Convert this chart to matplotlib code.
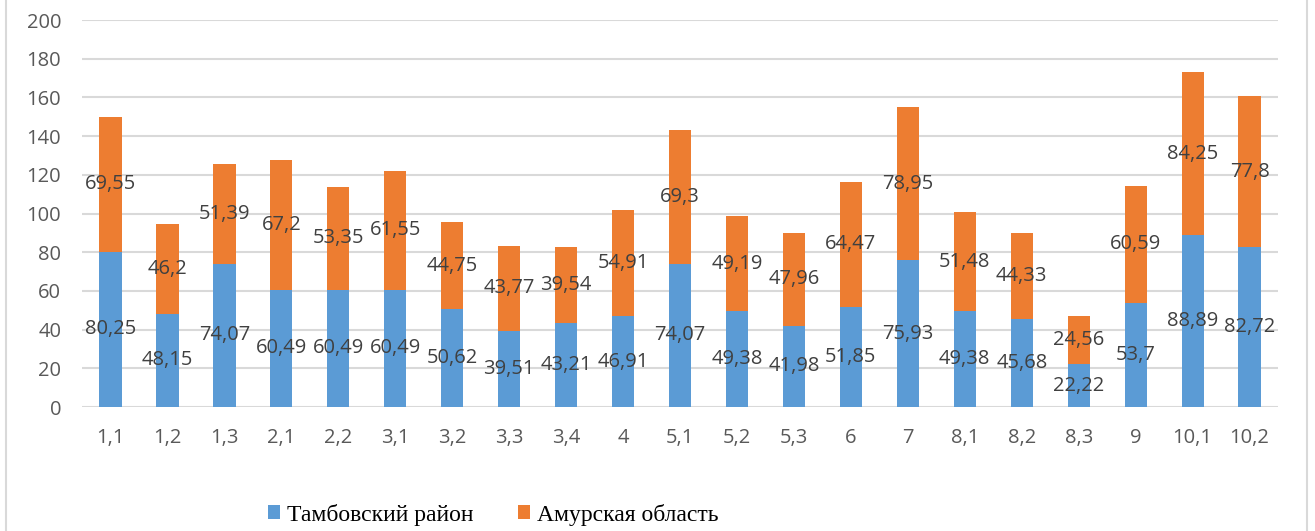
import numpy as np
import matplotlib
matplotlib.use("Agg")
import matplotlib.pyplot as plt
from matplotlib.lines import Line2D

categories = ["1,1", "1,2", "1,3", "2,1", "2,2", "3,1", "3,2", "3,3", "3,4", "4",
              "5,1", "5,2", "5,3", "6", "7", "8,1", "8,2", "8,3", "9", "10,1", "10,2"]
tambov = [80.25, 48.15, 74.07, 60.49, 60.49, 60.49, 50.62, 39.51, 43.21, 46.91,
          74.07, 49.38, 41.98, 51.85, 75.93, 49.38, 45.68, 22.22, 53.7, 88.89, 82.72]
amur = [69.55, 46.2, 51.39, 67.2, 53.35, 61.55, 44.75, 43.77, 39.54, 54.91,
        69.3, 49.19, 47.96, 64.47, 78.95, 51.48, 44.33, 24.56, 60.59, 84.25, 77.8]
series_names = ["Тамбовский район", "Амурская область"]
yticks = [0, 20, 40, 60, 80, 100, 120, 140, 160, 180, 200]

blue = "#5b9bd5"
orange = "#ed7d31"
grid_color = "#d9d9d9"


def fmt(v):
    # Excel style, comma decimal
    return ("%g" % v).replace(".", ",")


fig = plt.figure(figsize=(13.15, 5.31), dpi=100)
ax = fig.add_axes([0.0624, 0.2335, 0.9095, 0.7288])

x = np.arange(len(categories))
bars1 = ax.bar(x, tambov, width=0.39, color=blue, zorder=3)
bars2 = ax.bar(x, amur, width=0.39, bottom=tambov, color=orange, zorder=3)

ax.bar_label(bars1, labels=[fmt(v) for v in tambov], label_type="center",
             color="#404040", fontsize=14.5, family="Open Sans", zorder=4)
ax.bar_label(bars2, labels=[fmt(v) for v in amur], label_type="center",
             color="#404040", fontsize=14.5, family="Open Sans", zorder=4)

ax.set_ylim(0, 200)
ax.set_xlim(-0.5, len(categories) - 0.5)
ax.set_yticks(yticks)
ax.set_xticks(x)
ax.set_xticklabels(categories)
ax.grid(axis="y", color=grid_color, linewidth=1.5, zorder=0)
for s in ax.spines.values():
    s.set_visible(False)
ax.tick_params(axis="both", length=0, colors="#595959", labelsize=14.5)
ax.tick_params(axis="x", pad=15)
ax.tick_params(axis="y", pad=15)
for lbl in ax.get_xticklabels() + ax.get_yticklabels():
    lbl.set_family("Open Sans")

# legend
leg = fig.legend(handles=[bars1, bars2], labels=series_names, loc="center",
                 bbox_to_anchor=(0.375, 0.031), ncol=2, frameon=False,
                 prop={"family": "Liberation Serif", "size": 17},
                 handlelength=0.5, handleheight=0.5, handletextpad=0.3,
                 columnspacing=1.9)

# chart frame (left / right border)
fig.add_artist(Line2D([0.0046, 0.0046], [0, 1], color=grid_color, linewidth=1.5))
fig.add_artist(Line2D([0.994, 0.994], [0, 1], color=grid_color, linewidth=1.5))

fig.savefig("out.png", dpi=100)
